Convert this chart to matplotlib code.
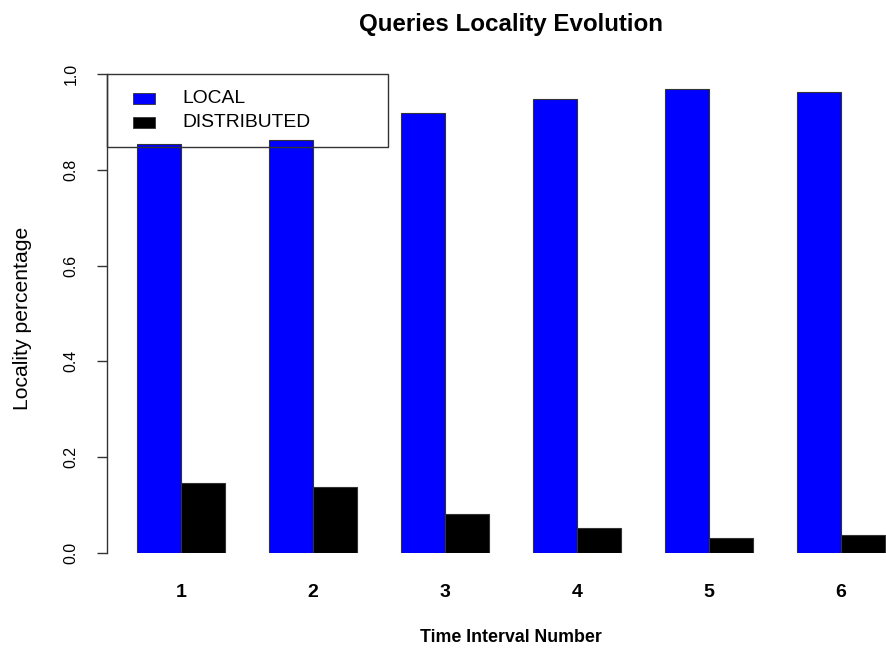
import matplotlib
matplotlib.use("Agg")
import matplotlib.pyplot as plt
from matplotlib.patches import Rectangle
import numpy as np

plt.rcParams['font.family'] = ['Liberation Sans', 'DejaVu Sans']

intervals = ["1", "2", "3", "4", "5", "6"]
local = [0.853, 0.862, 0.919, 0.948, 0.969, 0.963]
distributed = [0.147, 0.138, 0.081, 0.052, 0.031, 0.037]
series_names = ["LOCAL", "DISTRIBUTED"]
series_colors = ["#0000FF", "#000000"]
yticks = [0.0, 0.2, 0.4, 0.6, 0.8, 1.0]

W, H = 886, 653
fig = plt.figure(figsize=(W / 100, H / 100), dpi=100)
# plot region (pixels): x 107..915 (extends past the right edge), y 74..553
ax = fig.add_axes([107 / W, (H - 553) / H, (915 - 107) / W, (553 - 74) / H])

n = len(intervals)
left_local = np.arange(n) * 3 + 1
left_dist = left_local + 1
centers = left_local + 1

ax.bar(left_local, local, width=1, align='edge', color=series_colors[0],
       edgecolor='#333333', linewidth=0.8)
ax.bar(left_dist, distributed, width=1, align='edge', color=series_colors[1],
       edgecolor='#333333', linewidth=0.8)

ax.set_xlim(0.32, 18.68)
ax.set_ylim(0, 1)

for s in ['top', 'right', 'bottom']:
    ax.spines[s].set_visible(False)
ax.spines['left'].set_color('#333333')
ax.spines['left'].set_linewidth(1.0)

ax.set_yticks(yticks)
ax.set_yticklabels([f"{v:.1f}" for v in yticks], rotation=90, va='center',
                   fontsize=11.4)
ax.tick_params(axis='y', length=7.5, width=1.0, color='#333333', pad=13)

ax.set_xticks(centers)
ax.set_xticklabels(intervals, fontsize=14, fontweight='bold')
ax.tick_params(axis='x', length=0, pad=22)

ax.set_title("Queries Locality Evolution", fontsize=17.4, fontweight='bold', pad=31)
ax.set_xlabel("Time Interval Number", fontsize=12.8, fontweight='bold', va='center')
ax.xaxis.set_label_coords(0.5, -0.1754)
ax.set_ylabel("Locality percentage", fontsize=15.2, va='center')
ax.yaxis.set_label_coords(-0.104, 0.49)

# legend (R-style box, no fill)
tr = ax.transAxes
def px_x(p):
    return (p - 107) / 808
def px_y(p):
    return (553 - p) / 479

ax.add_patch(Rectangle((0, px_y(147)), px_x(388), 1 - px_y(147), transform=tr,
                       fill=False, edgecolor='#333333', linewidth=1.0,
                       clip_on=False, zorder=5))
rows = [(93, 104, 98.5), (117, 128, 122.5)]
for (t, b, c), name, col in zip(rows, series_names, series_colors):
    ax.add_patch(Rectangle((px_x(133), px_y(b)), px_x(155) - px_x(133),
                           px_y(t) - px_y(b), transform=tr, facecolor=col,
                           edgecolor='#333333', linewidth=0.6, clip_on=False,
                           zorder=6))
    ax.text(px_x(182), px_y(c), name, transform=tr, fontsize=13.9,
            va='center', ha='left', zorder=6)

fig.savefig("out.png", dpi=100)
